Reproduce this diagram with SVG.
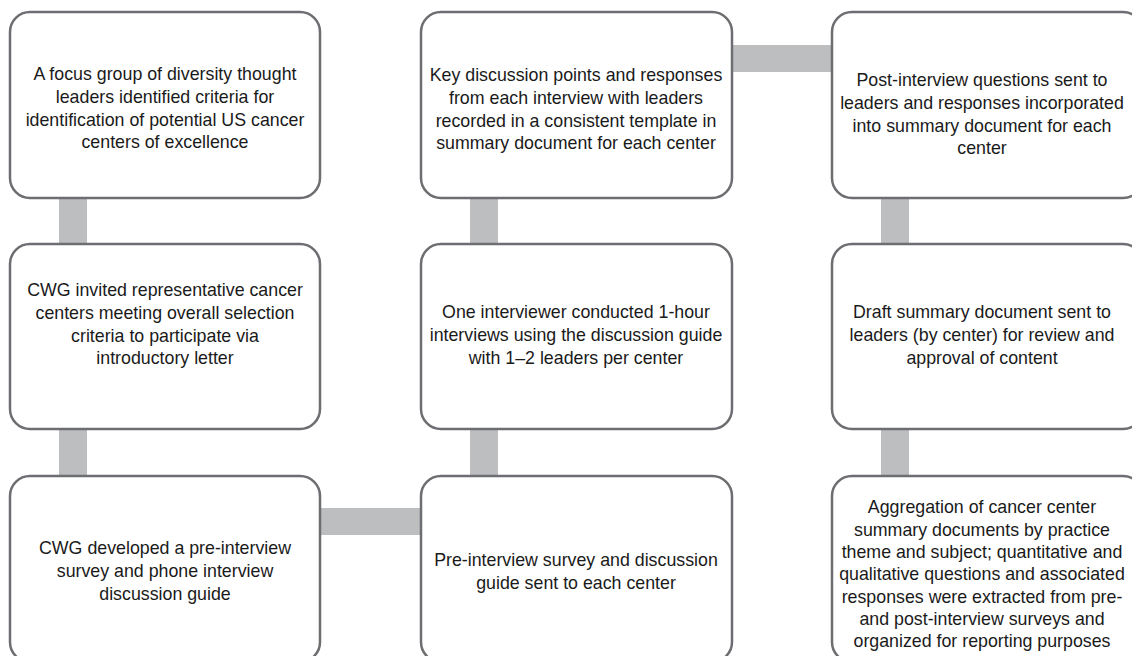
<svg xmlns="http://www.w3.org/2000/svg" width="1132" height="656" viewBox="0 0 1132 656">
<style>
.box{fill:#ffffff;stroke:#6d6e71;stroke-width:2.5}
.bar{fill:#bcbec0}
text{font-family:"Liberation Sans",Arial,sans-serif;font-size:17.8px;fill:#1a1a1a;text-anchor:middle}
</style>
<rect width="1132" height="656" fill="#ffffff"/>
<g id="connectors">
<rect class="bar" x="59" y="198" width="28" height="46"/>
<rect class="bar" x="59" y="429" width="28" height="47"/>
<rect class="bar" x="320" y="508" width="101" height="27"/>
<rect class="bar" x="470" y="429" width="28" height="47"/>
<rect class="bar" x="470" y="198" width="28" height="46"/>
<rect class="bar" x="732" y="45" width="100" height="27"/>
<rect class="bar" x="881" y="198" width="28" height="46"/>
<rect class="bar" x="881" y="429" width="28" height="47"/>
</g>
<g id="n1">
<rect class="box" x="10" y="12" width="310" height="186" rx="20"/>
<text x="165" y="80">A focus group of diversity thought</text>
<text x="165" y="103">leaders identified criteria for</text>
<text x="165" y="126">identification of potential US cancer</text>
<text x="165" y="148">centers of excellence</text>
</g>
<g id="n2">
<rect class="box" x="10" y="244" width="310" height="185" rx="20"/>
<text x="165" y="296">CWG invited representative cancer</text>
<text x="165" y="319">centers meeting overall selection</text>
<text x="165" y="342">criteria to participate via</text>
<text x="165" y="364">introductory letter</text>
</g>
<g id="n3">
<rect class="box" x="10" y="476" width="310" height="186" rx="20"/>
<text x="165" y="554">CWG developed a pre-interview</text>
<text x="165" y="577">survey and phone interview</text>
<text x="165" y="600">discussion guide</text>
</g>
<g id="n4">
<rect class="box" x="421" y="476" width="311" height="186" rx="20"/>
<text x="576" y="566">Pre-interview survey and discussion</text>
<text x="576" y="589">guide sent to each center</text>
</g>
<g id="n5">
<rect class="box" x="421" y="244" width="311" height="185" rx="20"/>
<text x="576" y="318">One interviewer conducted 1-hour</text>
<text x="576" y="341">interviews using the discussion guide</text>
<text x="576" y="364">with 1–2 leaders per center</text>
</g>
<g id="n6">
<rect class="box" x="421" y="12" width="311" height="186" rx="20"/>
<text x="576" y="81">Key discussion points and responses</text>
<text x="576" y="104">from each interview with leaders</text>
<text x="576" y="127">recorded in a consistent template in</text>
<text x="576" y="149">summary document for each center</text>
</g>
<g id="n7">
<rect class="box" x="832" y="12" width="311" height="186" rx="20"/>
<text x="982" y="86">Post-interview questions sent to</text>
<text x="982" y="109">leaders and responses incorporated</text>
<text x="982" y="132">into summary document for each</text>
<text x="982" y="154">center</text>
</g>
<g id="n8">
<rect class="box" x="832" y="244" width="311" height="185" rx="20"/>
<text x="982" y="318">Draft summary document sent to</text>
<text x="982" y="341">leaders (by center) for review and</text>
<text x="982" y="364">approval of content</text>
</g>
<g id="n9">
<rect class="box" x="832" y="476" width="311" height="186" rx="20"/>
<text x="982" y="513">Aggregation of cancer center</text>
<text x="982" y="536">summary documents by practice</text>
<text x="982" y="558">theme and subject; quantitative and</text>
<text x="982" y="580">qualitative questions and associated</text>
<text x="982" y="603">responses were extracted from pre-</text>
<text x="982" y="625">and post-interview surveys and</text>
<text x="982" y="647">organized for reporting purposes</text>
</g>
</svg>
